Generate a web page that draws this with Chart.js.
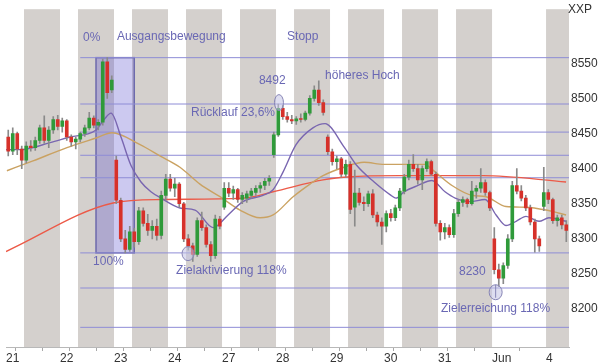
<!DOCTYPE html>
<html>
<head>
<meta charset="utf-8">
<script src="https://cdn.jsdelivr.net/npm/chart.js@4.4.0/dist/chart.umd.min.js"></script>
<style>
html, body { margin: 0; padding: 0; background: #fff; }
#wrap { width: 600px; height: 364px; }
</style>
</head>
<body>
<div id="wrap"><canvas id="chart" width="600" height="364"></canvas></div>
<script>
'use strict';

// x unit: trading hours since the 21st, 00:00 (24 per trading day)
var dayLabels = ['21', '22', '23', '24', '27', '28', '29', '30', '31', 'Jun', '4'];
var xMax = 250.2;
var grayBands = [[8, 24], [32, 48], [56, 72], [80, 96], [104, 120], [128, 144], [152, 168], [176, 192], [200, 216], [240, 251]];
var yTicks = [8200, 8250, 8300, 8350, 8400, 8450, 8500, 8550];
var candleHours = 2;

// 2h candles
var opens = [8445, 8425, 8450, 8428, 8412, 8432, 8430, 8440, 8458, 8440, 8455, 8470,
   8460, 8468, 8445, 8438, 8442, 8450, 8458, 8472, 8462, 8466, 8552, 8512,
   8412, 8355, 8300, 8285, 8310, 8296, 8340, 8322, 8312, 8318, 8305, 8362,
   8385, 8372, 8378, 8350, 8300, 8290, 8278, 8326, 8316, 8292, 8276, 8328,
   8345, 8372, 8365, 8370, 8356, 8358, 8362, 8366, 8372, 8376, 8382, 8420,
   8448, 8486, 8474, 8470, 8468, 8471, 8470, 8479, 8500, 8512, 8494, 8445,
   8424, 8410, 8414, 8392, 8406, 8345, 8365, 8352, 8350, 8364, 8334, 8324,
   8318, 8336, 8330, 8344, 8368, 8388, 8406, 8400, 8384, 8400, 8410, 8392,
   8322, 8310, 8316, 8306, 8336, 8352, 8356, 8350, 8368, 8372, 8380, 8366,
   8300, 8256, 8244, 8262, 8300, 8376, 8368, 8358, 8344, 8324, 8300, 8346,
   8366, 8356, 8326, 8330, 8320];
var highs = [8455, 8458, 8452, 8432, 8438, 8440, 8445, 8462, 8475, 8460, 8474, 8476,
   8472, 8470, 8448, 8445, 8452, 8462, 8480, 8475, 8470, 8556, 8558, 8532,
   8418, 8358, 8312, 8318, 8315, 8345, 8344, 8335, 8326, 8328, 8368, 8392,
   8392, 8386, 8380, 8352, 8306, 8294, 8330, 8338, 8320, 8296, 8334, 8332,
   8380, 8380, 8375, 8372, 8366, 8368, 8372, 8376, 8380, 8386, 8390, 8452,
   8492, 8490, 8480, 8476, 8474, 8478, 8482, 8504, 8518, 8525, 8498, 8448,
   8428, 8418, 8416, 8412, 8410, 8398, 8372, 8360, 8368, 8370, 8338, 8330,
   8340, 8342, 8348, 8372, 8392, 8412, 8420, 8406, 8404, 8414, 8412, 8395,
   8326, 8322, 8320, 8342, 8356, 8360, 8358, 8382, 8376, 8400, 8384, 8368,
   8316, 8264, 8266, 8306, 8382, 8400, 8376, 8362, 8348, 8328, 8304, 8402,
   8370, 8358, 8334, 8334, 8326];
var lows = [8418, 8420, 8420, 8400, 8408, 8425, 8426, 8436, 8436, 8430, 8450, 8455,
   8452, 8440, 8432, 8428, 8438, 8446, 8455, 8458, 8455, 8462, 8500, 8508,
   8350, 8296, 8280, 8282, 8288, 8292, 8318, 8305, 8300, 8298, 8300, 8355,
   8368, 8360, 8345, 8296, 8284, 8268, 8275, 8312, 8288, 8268, 8272, 8314,
   8342, 8360, 8356, 8352, 8350, 8352, 8358, 8362, 8366, 8370, 8376, 8416,
   8446, 8470, 8466, 8464, 8463, 8466, 8468, 8476, 8496, 8490, 8476, 8420,
   8405, 8400, 8388, 8388, 8336, 8318, 8348, 8340, 8346, 8330, 8318, 8292,
   8310, 8325, 8326, 8340, 8364, 8384, 8396, 8378, 8370, 8396, 8390, 8318,
   8298, 8300, 8302, 8302, 8332, 8346, 8345, 8348, 8358, 8366, 8362, 8340,
   8250, 8232, 8236, 8258, 8296, 8364, 8354, 8340, 8320, 8281, 8282, 8340,
   8350, 8322, 8318, 8314, 8296];
var closes = [8425, 8450, 8428, 8412, 8432, 8430, 8440, 8458, 8440, 8455, 8470, 8460,
   8468, 8445, 8438, 8442, 8450, 8458, 8472, 8462, 8466, 8552, 8508, 8526,
   8355, 8300, 8285, 8310, 8296, 8340, 8322, 8312, 8318, 8305, 8362, 8385,
   8372, 8378, 8350, 8300, 8290, 8278, 8326, 8316, 8292, 8276, 8328, 8318,
   8372, 8365, 8370, 8356, 8362, 8364, 8368, 8372, 8376, 8382, 8386, 8448,
   8486, 8474, 8470, 8468, 8471, 8470, 8479, 8500, 8512, 8494, 8480, 8424,
   8410, 8414, 8392, 8406, 8342, 8365, 8352, 8350, 8364, 8334, 8324, 8318,
   8336, 8330, 8344, 8368, 8388, 8406, 8400, 8384, 8400, 8410, 8392, 8322,
   8310, 8316, 8306, 8336, 8352, 8356, 8350, 8368, 8372, 8380, 8366, 8344,
   8256, 8244, 8262, 8300, 8376, 8368, 8358, 8344, 8324, 8300, 8290, 8366,
   8356, 8326, 8330, 8320, 8312];

// moving averages (hour, value)
var shortMaHours = [0, 6.2, 19.6, 28.4, 40, 43.6, 46.7, 51.1, 55.6, 60, 64.4, 68.9, 77.3, 84, 92, 98.7,
   105.3, 114.2, 118.7, 123.1, 128.9, 136.4, 141.8, 150.2, 156, 163.6, 171.1, 173.3, 176.9, 183.1,
   189.3, 195.1, 199.6, 206.2, 212.9, 217.8, 222.2, 226.7, 231.1, 236.9, 241.3, 248.9];
var shortMa = [8427, 8427, 8437, 8445, 8455, 8470, 8479, 8445, 8404, 8381, 8367, 8358, 8344, 8341, 8316, 8334,
   8353, 8362, 8370, 8395, 8434, 8458, 8464, 8431, 8404, 8381, 8362, 8358, 8367, 8376,
   8383, 8367, 8358, 8353, 8356, 8334, 8319, 8325, 8332, 8325, 8330, 8325];
var midMaHours = [0.4, 12, 27.1, 40.4, 47.1, 59.6, 68.4, 77.3, 86.2, 95.1, 104, 112.9, 118.7, 127.6, 135.1,
   140.9, 150.2, 159.1, 168, 176.9, 186.2, 189.3, 198.2, 207.1, 213.3, 222.2, 231.1, 240, 248.9];
var midMa = [8397, 8411, 8430, 8444, 8451, 8434, 8418, 8402, 8378, 8360, 8341, 8330, 8334, 8360, 8378,
   8390, 8402, 8409, 8406, 8406, 8406, 8399, 8376, 8362, 8360, 8346, 8345, 8341, 8334];
var longMaHours = [0, 47.6, 68.9, 105.3, 118.7, 140.9, 151.6, 175.1, 212, 248.9];
var longMa = [8282, 8351, 8356, 8358, 8367, 8384, 8388, 8390, 8390, 8381];

// Fibonacci levels: 0, 23.6, 38.2, 50, 61.8, 100, 118, 138.2 %
var fibLevels = [8558, 8492, 8452, 8419, 8387, 8280, 8230, 8174];
var fibStart = 33;
var boxFrom = 40;
var boxTo = 57;

var markers = [
   { h: 121.3, v: 8494, rx: 4.5, ry: 8, stem: false },
   { h: 80.9, v: 8279, rx: 6, ry: 7, stem: false },
   { h: 217.6, v: 8224, rx: 6.5, ry: 7.5, stem: true }
];

var notes = [
   { text: '0%', h: 34.2, v: 8586 },
   { text: 'Ausgangsbewegung', h: 49.3, v: 8588 },
   { text: 'Stopp', h: 124.9, v: 8588 },
   { text: '8492', h: 112.4, v: 8525 },
   { text: 'höheres Hoch', h: 141.8, v: 8532 },
   { text: 'Rücklauf 23,6%', h: 82.2, v: 8479 },
   { text: '100%', h: 38.7, v: 8268 },
   { text: 'Zielaktivierung 118%', h: 75.6, v: 8254 },
   { text: '8230', h: 201.3, v: 8253 },
   { text: 'Zielerreichung 118%', h: 193.3, v: 8200 }
];

var noteColor = '#6a68b4';
var fontFamily = '"Liberation Sans", Arial, sans-serif';

function pairs(xs, ys) {
   return xs.map(function(x, i) {
      return { x: x, y: ys[i] };
   });
}

var bodies = [];
var wicks = [];
var bodyColors = [];
opens.forEach(function(o, i) {
   var x = i * candleHours + candleHours / 2;
   bodies.push({ x: x, y: [o, closes[i]] });
   wicks.push({ x: x, y: [lows[i], highs[i]] });
   bodyColors.push(closes[i] >= o ? '#2f9a3a' : '#d6312a');
});

var datasets = [];
fibLevels.forEach(function(level) {
   datasets.push({
      type: 'line',
      data: [{ x: fibStart, y: level }, { x: xMax, y: level }],
      borderColor: '#8e8cd6',
      borderWidth: 1,
      pointRadius: 0,
      order: 10
   });
});
datasets.push({
   type: 'line', data: pairs(longMaHours, longMa), borderColor: '#ec5a48',
   borderWidth: 1.4, pointRadius: 0, cubicInterpolationMode: 'monotone', order: 6
});
datasets.push({
   type: 'line', data: pairs(midMaHours, midMa), borderColor: '#caa262',
   borderWidth: 1.4, pointRadius: 0, cubicInterpolationMode: 'monotone', order: 5
});
datasets.push({
   type: 'line', data: pairs(shortMaHours, shortMa), borderColor: '#7966b0',
   borderWidth: 1.4, pointRadius: 0, cubicInterpolationMode: 'monotone', order: 4
});
datasets.push({
   type: 'bar', data: wicks, backgroundColor: '#8a8a8a', barThickness: 1,
   grouped: false, order: 2
});
datasets.push({
   type: 'bar', data: bodies, backgroundColor: bodyColors, barThickness: 3,
   minBarLength: 1, grouped: false, order: 1
});

var decorPlugin = {
   id: 'decor',
   beforeDraw: function(chart) {
      var ctx = chart.ctx;
      var area = chart.chartArea;
      var xs = chart.scales.x;
      ctx.save();
      ctx.fillStyle = '#fff';
      ctx.fillRect(0, 0, chart.width, chart.height);
      ctx.fillStyle = '#d4d0cd';
      grayBands.forEach(function(b) {
         var x0 = xs.getPixelForValue(b[0]);
         var x1 = xs.getPixelForValue(Math.min(b[1], xMax));
         ctx.fillRect(x0, area.top, x1 - x0, area.bottom - area.top);
      });
      ctx.restore();
   },
   beforeDatasetsDraw: function(chart) {
      var ctx = chart.ctx;
      var xs = chart.scales.x;
      var ys = chart.scales.y;
      var x0 = xs.getPixelForValue(boxFrom);
      var x1 = xs.getPixelForValue(boxTo);
      var y0 = ys.getPixelForValue(fibLevels[0]);
      var y1 = ys.getPixelForValue(fibLevels[5]);
      ctx.save();
      ctx.fillStyle = 'rgba(100, 90, 210, 0.33)';
      ctx.fillRect(x0, y0, x1 - x0, y1 - y0);
      ctx.strokeStyle = '#6d6aac';
      ctx.lineWidth = 1.5;
      ctx.strokeRect(x0, y0, x1 - x0, y1 - y0);
      ctx.restore();
   },
   afterDatasetsDraw: function(chart) {
      var ctx = chart.ctx;
      var xs = chart.scales.x;
      var ys = chart.scales.y;
      ctx.save();
      markers.forEach(function(m) {
         var cx = xs.getPixelForValue(m.h);
         var cy = ys.getPixelForValue(m.v);
         ctx.beginPath();
         ctx.ellipse(cx, cy, m.rx, m.ry, 0, 0, Math.PI * 2);
         ctx.fillStyle = 'rgba(195, 195, 228, 0.55)';
         ctx.fill();
         ctx.strokeStyle = '#8886b6';
         ctx.lineWidth = 1;
         ctx.stroke();
         if (m.stem) {
            ctx.beginPath();
            ctx.moveTo(cx, cy - m.ry);
            ctx.lineTo(cx, cy + m.ry - 2);
            ctx.stroke();
         }
      });
      ctx.font = '12px ' + fontFamily;
      ctx.fillStyle = noteColor;
      ctx.textAlign = 'left';
      ctx.textBaseline = 'middle';
      notes.forEach(function(n) {
         ctx.fillText(n.text, xs.getPixelForValue(n.h), ys.getPixelForValue(n.v));
      });
      ctx.fillStyle = '#333';
      ctx.fillText('XXP', chart.chartArea.right - 1, 10);
      ctx.restore();
   }
};

var ctx = document.getElementById('chart').getContext('2d');
var chart = new Chart(ctx, {
   type: 'bar',
   data: { datasets: datasets },
   options: {
      responsive: false,
      devicePixelRatio: 1,
      animation: false,
      events: [],
      layout: { padding: { left: 6, top: 2, right: 0, bottom: 0 } },
      plugins: { legend: { display: false }, tooltip: { enabled: false } },
      scales: {
         x: {
            type: 'linear',
            min: 0,
            max: xMax,
            offset: false,
            afterBuildTicks: function(scale) {
               var seen = {};
               var t = [];
               dayLabels.forEach(function(l, i) { t.push(i * 24); });
               grayBands.forEach(function(b) { t.push(b[0]); t.push(b[1]); });
               t = t.filter(function(v) {
                  if (v > xMax || seen[v]) return false;
                  seen[v] = true;
                  return true;
               }).sort(function(a, b) { return a - b; });
               scale.ticks = t.map(function(v) { return { value: v }; });
            },
            afterFit: function(scale) { scale.height = 17; },
            grid: { display: true, drawOnChartArea: false, drawTicks: true, tickLength: 4, color: '#a8a8a8' },
            border: { display: true, color: '#b8b8b8' },
            ticks: {
               autoSkip: false,
               maxRotation: 0,
               align: 'start',
               padding: 0,
               color: '#333',
               font: { family: fontFamily, size: 12 },
               callback: function(value) {
                  return value % 24 === 0 ? dayLabels[value / 24] : '';
               }
            }
         },
         y: {
            type: 'linear',
            position: 'right',
            min: 8146,
            max: 8627,
            afterBuildTicks: function(scale) {
               scale.ticks = yTicks.map(function(v) { return { value: v }; });
            },
            afterFit: function(scale) { scale.width = 31; },
            grid: { display: false, drawTicks: false },
            border: { display: false },
            ticks: {
               padding: 2,
               color: '#333',
               font: { family: fontFamily, size: 12 },
               callback: function(value) { return String(value); }
            }
         }
      }
   },
   plugins: [decorPlugin]
});
</script>
</body>
</html>
